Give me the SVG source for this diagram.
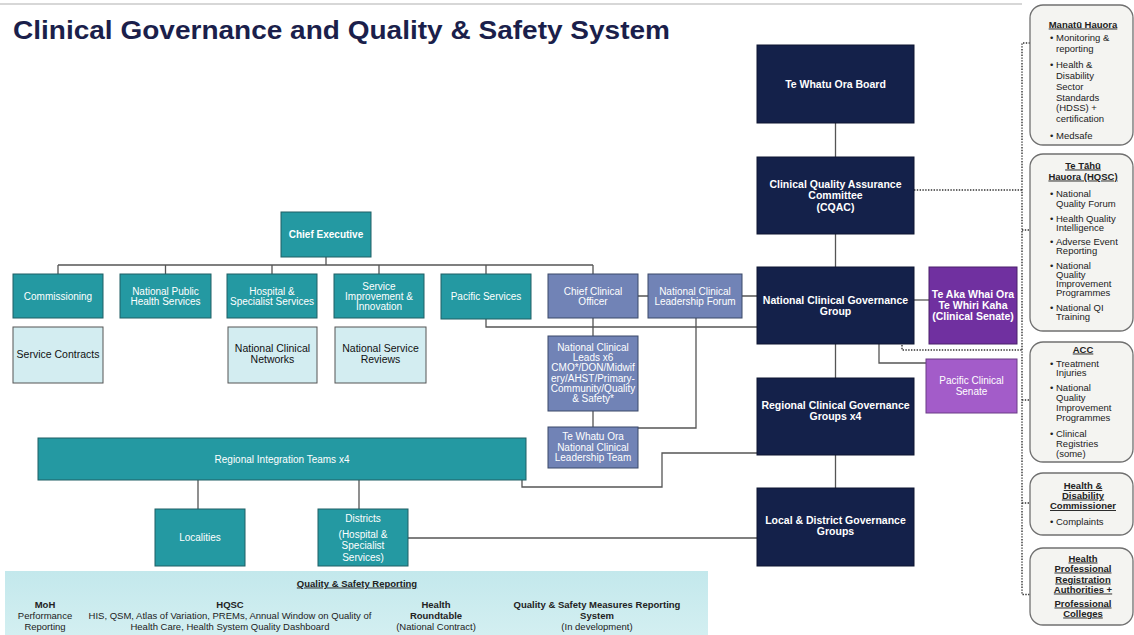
<svg xmlns="http://www.w3.org/2000/svg" width="1134" height="635" viewBox="0 0 1134 635">
<style>
text{font-family:"Liberation Sans",Arial,sans-serif;}
.t{font-size:10px;fill:#fff;text-anchor:middle;}
.tb{font-size:10.5px;fill:#fff;text-anchor:middle;font-weight:bold;}
.dk{font-size:10.5px;fill:#111;text-anchor:middle;}
.navy{fill:#14214a;stroke:#0c1530;stroke-width:1;}
.teal{fill:#2499a2;stroke:#1f5f64;stroke-width:1;}
.slate{fill:#7183b6;stroke:#3a4868;stroke-width:1;}
.light{fill:#d3edf1;stroke:#555;stroke-width:1;}
.panel{fill:#f4f4f1;stroke:#707070;stroke-width:1.3;}
.pt{font-size:9.5px;fill:#222;}
.ph{font-size:9.5px;fill:#222;font-weight:bold;text-anchor:middle;text-decoration:underline;}
.con{fill:none;stroke:#555;stroke-width:1.3;}
.dot{fill:none;stroke:#333;stroke-width:1.4;stroke-dasharray:1.4 1.4;}
.bt{font-size:9.5px;fill:#222;text-anchor:middle;}
.bb{font-size:9.5px;fill:#222;text-anchor:middle;font-weight:bold;}
</style>
<defs>
<linearGradient id="rg" x1="0" y1="0" x2="0" y2="1"><stop offset="0" stop-color="#c3e8ec"/><stop offset="1" stop-color="#d3eff1"/></linearGradient>
</defs>
<rect x="0" y="0" width="1134" height="635" fill="#fff"/>
<line x1="0" y1="4" x2="1022" y2="4" stroke="#b0b0b0" stroke-width="1.2"/>
<text x="13" y="39" font-family="Inter,'Liberation Sans',sans-serif" font-weight="800" font-size="26" fill="#1b1f4b" textLength="657" lengthAdjust="spacingAndGlyphs">Clinical Governance and Quality &amp; Safety System</text>

<g id="connectors">
<path class="con" d="M326 257V265M58 265H593M58 265V274M165.5 265V274M272 265V274M379 265V274M486 265V274M593 265V274"/>
<path class="con" d="M638 296H648M742 296H757"/>
<path class="con" d="M593 318V336M593 411V427"/>
<path class="con" d="M696 318V428H638"/>
<path class="con" d="M486 319V327H757"/>
<path class="con" d="M757 453H662V487H522V480"/>
<path class="con" d="M198 480V509M359 480V509"/>
<path class="con" d="M408 538H757"/>
<path class="con" d="M835.5 123V157M835.5 234V267M835.5 344V378M835.5 455V488"/>
<path class="con" d="M914 300H929"/>
<path class="con" d="M879 344V363H926"/>
<path class="dot" d="M914 190H1022"/>
<path class="dot" d="M902 345V350H1022"/>
<path class="dot" d="M1030 43H1022V594.5H1030M1022 230H1030M1022 400H1030M1022 503H1030"/>
</g>

<g id="chief-executive"><rect class="teal" x="281" y="212" width="90" height="45"/><text class="t" font-weight="bold" x="326" y="238">Chief Executive</text></g>
<g id="commissioning"><rect class="teal" x="13" y="274" width="90" height="44"/><text class="t" x="58" y="300">Commissioning</text></g>
<g id="nphs"><rect class="teal" x="120" y="274" width="91" height="44"/><text class="t" x="165.5" y="294.5">National Public</text><text class="t" x="165.5" y="304.5">Health Services</text></g>
<g id="hss"><rect class="teal" x="227" y="274" width="90" height="44"/><text class="t" x="272" y="294.5">Hospital &amp;</text><text class="t" x="272" y="304.5">Specialist Services</text></g>
<g id="sii"><rect class="teal" x="334" y="274" width="90" height="44"/><text class="t" x="379" y="289.5">Service</text><text class="t" x="379" y="299.5">Improvement &amp;</text><text class="t" x="379" y="309.5">Innovation</text></g>
<g id="pacific-services"><rect class="teal" x="441" y="274" width="90" height="45"/><text class="t" x="486" y="299.5">Pacific Services</text></g>
<g id="cco"><rect class="slate" x="548" y="274" width="90" height="44"/><text class="t" x="593" y="294.5">Chief Clinical</text><text class="t" x="593" y="304.5">Officer</text></g>
<g id="nclf"><rect class="slate" x="648" y="274" width="94" height="44"/><text class="t" x="695" y="294.5">National Clinical</text><text class="t" x="695" y="304.5">Leadership Forum</text></g>
<g id="ncl"><rect class="slate" x="548" y="336" width="90" height="75"/>
<text class="t" x="593" y="350.5">National Clinical</text><text class="t" x="593" y="361">Leads x6</text><text class="t" x="593" y="371">CMO*/DON/Midwif</text><text class="t" x="593" y="381.5">ery/AHST/Primary-</text><text class="t" x="593" y="391.5">Community/Quality</text><text class="t" x="593" y="401.5">&amp; Safety*</text></g>
<g id="ncl-team"><rect class="slate" x="548" y="427" width="90" height="41"/><text class="t" x="593" y="440">Te Whatu Ora</text><text class="t" x="593" y="450.5">National Clinical</text><text class="t" x="593" y="461">Leadership Team</text></g>

<g id="service-contracts"><rect class="light" x="13" y="327" width="90" height="56"/><text class="dk" x="58" y="357.5">Service Contracts</text></g>
<g id="ncn"><rect class="light" x="228" y="327" width="89" height="56"/><text class="dk" x="272.5" y="351.5">National Clinical</text><text class="dk" x="272.5" y="362.5">Networks</text></g>
<g id="nsr"><rect class="light" x="335" y="327" width="91" height="56"/><text class="dk" x="380.5" y="351.5">National Service</text><text class="dk" x="380.5" y="362.5">Reviews</text></g>

<g id="rit"><rect class="teal" x="38" y="438" width="488" height="42"/><text class="t" x="282" y="462.5">Regional Integration Teams x4</text></g>
<g id="localities"><rect class="teal" x="155" y="509" width="90" height="57"/><text class="t" x="200" y="540.5">Localities</text></g>
<g id="districts"><rect class="teal" x="318" y="509" width="90" height="57"/><text class="t" x="363" y="521.5">Districts</text><text class="t" x="363" y="537.5">(Hospital &amp;</text><text class="t" x="363" y="549">Specialist</text><text class="t" x="363" y="560.5">Services)</text></g>

<g id="board"><rect class="navy" x="757" y="45" width="157" height="78"/><text class="tb" x="835.5" y="87.5">Te Whatu Ora Board</text></g>
<g id="cqac"><rect class="navy" x="757" y="157" width="157" height="77"/><text class="tb" x="835.5" y="188">Clinical Quality Assurance</text><text class="tb" x="835.5" y="199">Committee</text><text class="tb" x="835.5" y="210.5">(CQAC)</text></g>
<g id="ncgg"><rect class="navy" x="757" y="267" width="157" height="77"/><text class="tb" x="835.5" y="303.5">National Clinical Governance</text><text class="tb" x="835.5" y="314.5">Group</text></g>
<g id="rcgg"><rect class="navy" x="757" y="378" width="157" height="77"/><text class="tb" x="835.5" y="408.5">Regional Clinical Governance</text><text class="tb" x="835.5" y="419.5">Groups x4</text></g>
<g id="ldgg"><rect class="navy" x="757" y="488" width="157" height="78"/><text class="tb" x="835.5" y="523.5">Local &amp; District Governance</text><text class="tb" x="835.5" y="534.5">Groups</text></g>

<g id="te-aka"><rect x="929" y="267" width="88" height="77" fill="#7030a0" stroke="#4a1f6b" stroke-width="1"/><text class="tb" x="973" y="297.5">Te Aka Whai Ora</text><text class="tb" x="973" y="308.5">Te Whiri Kaha</text><text class="tb" font-size="9px" x="973" y="319.5">(Clinical Senate)</text></g>
<g id="pcs"><rect x="926" y="359" width="91" height="54" fill="#a35cc9" stroke="#6b3a86" stroke-width="1"/><text class="t" x="971.5" y="383.5">Pacific Clinical</text><text class="t" x="971.5" y="394.5">Senate</text></g>

<g id="manatu">
<rect class="panel" x="1030" y="5" width="103" height="140" rx="13"/>
<text class="ph" x="1083" y="27.5">Manatū Hauora</text>
<g class="pt"><text x="1050" y="40.5">•</text><text x="1056" y="40.5">Monitoring &amp;</text><text x="1056" y="51.5">reporting</text>
<text x="1050" y="67.5">•</text><text x="1056" y="67.5">Health &amp;</text><text x="1056" y="78.5">Disability</text><text x="1056" y="89.5">Sector</text><text x="1056" y="100.5">Standards</text><text x="1056" y="110.5">(HDSS) +</text><text x="1056" y="121.5">certification</text>
<text x="1050" y="138.5">•</text><text x="1056" y="138.5">Medsafe</text></g>
</g>
<g id="hqsc">
<rect class="panel" x="1030" y="154" width="103" height="177" rx="13"/>
<text class="ph" x="1083" y="168.5">Te Tāhū</text><text class="ph" x="1083" y="179.5">Hauora (HQSC)</text>
<g class="pt"><text x="1050" y="196.5">•</text><text x="1056" y="196.5">National</text><text x="1056" y="206.5">Quality Forum</text>
<text x="1050" y="221.5">•</text><text x="1056" y="221.5">Health Quality</text><text x="1056" y="231">Intelligence</text>
<text x="1050" y="245">•</text><text x="1056" y="245">Adverse Event</text><text x="1056" y="254">Reporting</text>
<text x="1050" y="268.5">•</text><text x="1056" y="268.5">National</text><text x="1056" y="277.5">Quality</text><text x="1056" y="286.5">Improvement</text><text x="1056" y="295.5">Programmes</text>
<text x="1050" y="310.5">•</text><text x="1056" y="310.5">National QI</text><text x="1056" y="320">Training</text></g>
</g>
<g id="acc">
<rect class="panel" x="1030" y="342" width="103" height="120" rx="13"/>
<text class="ph" x="1083" y="352.5">ACC</text>
<g class="pt"><text x="1050" y="366.5">•</text><text x="1056" y="366.5">Treatment</text><text x="1056" y="376">Injuries</text>
<text x="1050" y="391">•</text><text x="1056" y="391">National</text><text x="1056" y="400.5">Quality</text><text x="1056" y="410.5">Improvement</text><text x="1056" y="421">Programmes</text>
<text x="1050" y="436.5">•</text><text x="1056" y="436.5">Clinical</text><text x="1056" y="446.5">Registries</text><text x="1056" y="456.5">(some)</text></g>
</g>
<g id="hdc">
<rect class="panel" x="1030" y="473" width="103" height="62" rx="13"/>
<text class="ph" x="1083" y="489">Health &amp;</text><text class="ph" x="1083" y="498.5">Disability</text><text class="ph" x="1083" y="509">Commissioner</text>
<g class="pt"><text x="1050" y="525">•</text><text x="1056" y="525">Complaints</text></g>
</g>
<g id="hpra">
<rect class="panel" x="1030" y="548" width="103" height="77" rx="13"/>
<text class="ph" x="1083" y="561.5">Health</text><text class="ph" x="1083" y="571.5">Professional</text><text class="ph" x="1083" y="582.5">Registration</text><text class="ph" x="1083" y="592.5">Authorities +</text><text class="ph" x="1083" y="606.5">Professional</text><text class="ph" x="1083" y="616.5">Colleges</text>
</g>

<g id="reporting">
<rect x="5" y="571" width="703" height="64" fill="url(#rg)"/>
<text class="bb" x="357" y="586.5" text-decoration="underline">Quality &amp; Safety Reporting</text>
<text class="bb" x="45" y="607.5">MoH</text><text class="bt" x="45" y="619">Performance</text><text class="bt" x="45" y="630">Reporting</text>
<text class="bb" x="230" y="607.5">HQSC</text><text class="bt" x="230" y="619">HIS, QSM, Atlas of Variation, PREMs, Annual Window on Quality of</text><text class="bt" x="230" y="630">Health Care, Health System Quality Dashboard</text>
<text class="bb" x="436" y="607.5">Health</text><text class="bb" x="436" y="619">Roundtable</text><text class="bt" x="436" y="630">(National Contract)</text>
<text class="bb" x="597" y="607.5">Quality &amp; Safety Measures Reporting</text><text class="bb" x="597" y="619">System</text><text class="bt" x="597" y="630">(In development)</text>
</g>
</svg>
